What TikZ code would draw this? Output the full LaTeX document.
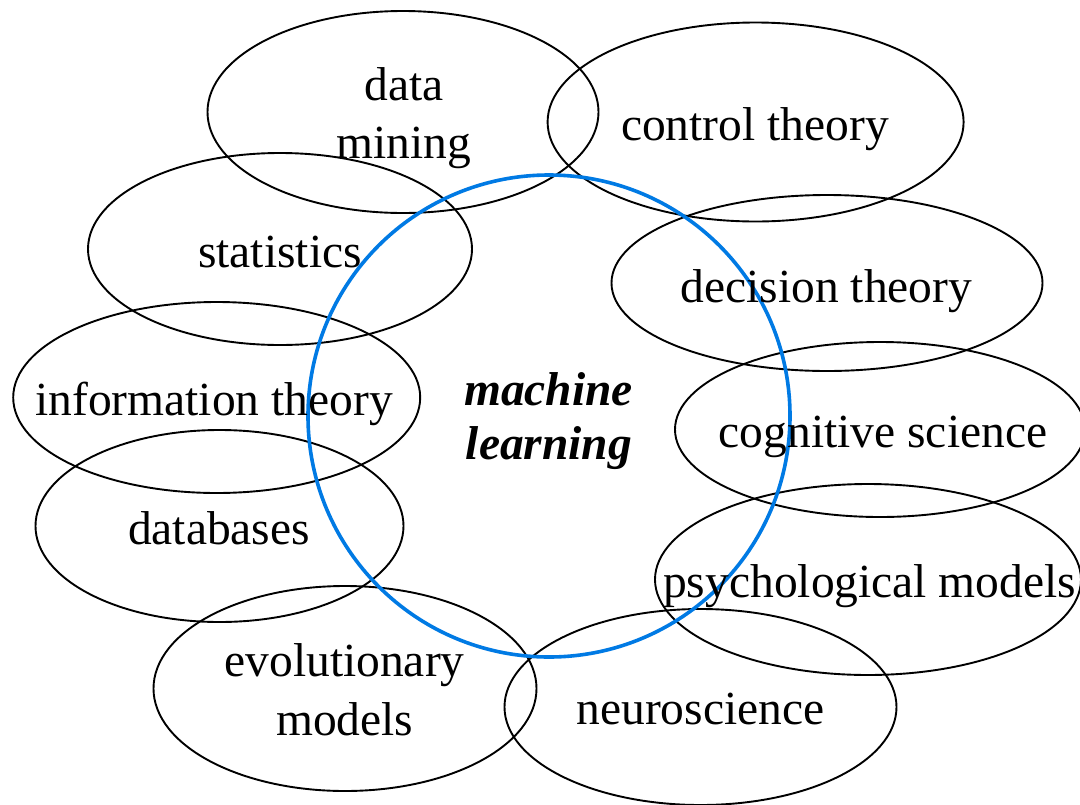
\documentclass[tikz,border=0pt]{standalone}
\usepackage{fontspec}
\setmainfont{Liberation Serif}
\usetikzlibrary{shapes.geometric}
\definecolor{mlblue}{RGB}{0,122,228}
\begin{document}
\begin{tikzpicture}[x=1pt,y=-1pt,
  fieldbox/.style={ellipse, draw=black, line width=1.9pt, inner sep=0pt, outer sep=0pt},
  lbl/.style={anchor=base, inner sep=0pt, font=\fontsize{47.5}{56}\selectfont},
  mlbl/.style={anchor=base, inner sep=0pt, font=\fontsize{47.5}{56}\selectfont\bfseries\itshape}]
\useasboundingbox (0,0) rectangle (1080,804);
\fill[white] (0,0) rectangle (1080,804);
% field ellipses
\node[fieldbox, minimum width=391pt, minimum height=202pt] (dm) at (403,112) {};
\node[fieldbox, minimum width=416pt, minimum height=199pt] (ct) at (755.6,122) {};
\node[fieldbox, minimum width=384pt, minimum height=192pt] (st) at (280,249) {};
\node[fieldbox, minimum width=431pt, minimum height=176pt] (dt) at (827,283) {};
\node[fieldbox, minimum width=407pt, minimum height=191pt] (it) at (216.7,397.5) {};
\node[fieldbox, minimum width=410pt, minimum height=175pt] (cs) at (880,429.5) {};
\node[fieldbox, minimum width=368pt, minimum height=192pt] (db) at (219.5,526) {};
\node[fieldbox, minimum width=426pt, minimum height=191pt] (pm) at (868,579.5) {};
\node[fieldbox, minimum width=383pt, minimum height=205pt] (em) at (345,688.5) {};
\node[fieldbox, minimum width=392pt, minimum height=196pt] (ns) at (700.5,707) {};
% machine learning circle
\node[circle, draw=mlblue, line width=3.6pt, minimum size=482pt, inner sep=0pt] (ml) at (549,416) {};
% labels
\node[lbl] (dmA) at (404,100) {data};
\node[lbl] (dmB) at (404,158) {mining};
\node[lbl] (stA) at (280,267) {statistics};
\node[lbl] (itA) at (214,415) {information theory};
\node[lbl] (dbA) at (219,544) {databases};
\node[lbl] (emA) at (344.5,676) {evolutionary};
\node[lbl] (emB) at (344.7,735) {models};
\node[lbl] (ctA) at (755,140) {control theory};
\node[lbl] (dtA) at (826.5,302) {decision theory};
\node[lbl] (csA) at (883,447) {cognitive science};
\node[lbl] (pmA) at (869.7,597) {psychological models};
\node[lbl] (nsA) at (700.5,724) {neuroscience};
\node[mlbl] (mlA) at (548.5,405) {machine};
\node[mlbl] (mlB) at (549,459) {learning};
\end{tikzpicture}
\end{document}
